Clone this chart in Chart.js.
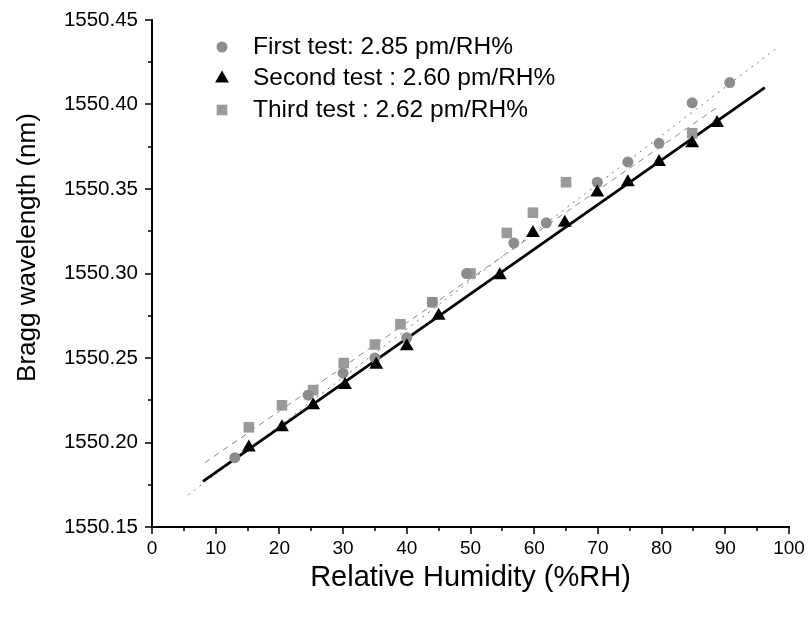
<!DOCTYPE html>
<html>
<head>
<meta charset="utf-8">
<script src="https://cdn.jsdelivr.net/npm/chart.js@4.4.1/dist/chart.umd.min.js"></script>
<style>
  body { margin: 0; background: #fff; }
  #wrap { width: 810px; height: 617px; }
</style>
</head>
<body>
<div id="wrap"><canvas id="c"></canvas></div>
<script>
// axis ticks
const xTicks = [0, 10, 20, 30, 40, 50, 60, 70, 80, 90, 100];
const yTicks = [1550.15, 1550.20, 1550.25, 1550.30, 1550.35, 1550.40, 1550.45];

// first test (circles)
const firstX = [13, 24.5, 30, 35, 40, 44, 49.4, 56.8, 61.9, 69.9, 74.7, 79.6, 84.8, 90.7];
const firstY = [1550.191, 1550.228, 1550.241, 1550.250, 1550.262, 1550.283, 1550.300, 1550.318, 1550.330, 1550.354, 1550.366, 1550.377, 1550.401, 1550.413];

// second test (triangles)
const secondX = [15.2, 20.4, 25.3, 30.3, 35.2, 40, 45, 54.6, 59.8, 64.8, 69.9, 74.7, 79.6, 84.8, 88.7];
const secondY = [1550.197, 1550.209, 1550.222, 1550.234, 1550.246, 1550.257, 1550.275, 1550.299, 1550.324, 1550.330, 1550.348, 1550.354, 1550.366, 1550.377, 1550.389];

// third test (squares)
const thirdX = [15.2, 20.4, 25.3, 30.1, 35, 39, 44, 50, 55.7, 59.8, 65, 84.8];
const thirdY = [1550.209, 1550.222, 1550.231, 1550.247, 1550.258, 1550.270, 1550.283, 1550.300, 1550.324, 1550.336, 1550.354, 1550.383];

// linear fits (end points)
const fitFirstX = [5.7, 98.3];
const fitFirstY = [1550.169, 1550.434];
const fitSecondX = [8, 96.2];
const fitSecondY = [1550.177, 1550.410];
const fitThirdX = [8.3, 89];
const fitThirdY = [1550.188, 1550.399];

const seriesLabels = ['First test: 2.85 pm/RH%', 'Second test : 2.60 pm/RH%', 'Third test : 2.62 pm/RH%'];
const yTitle = 'Bragg wavelength (nm)';
const xTitle = 'Relative Humidity (%RH)';

const FONT = '"Liberation Sans", Arial, sans-serif';

function pts(xs, ys) {
  return xs.map(function(x, i) { return {x: x, y: ys[i]}; });
}

// major + minor tick marks drawn outside the axes
const tickMarks = {
  id: 'tickMarks',
  afterDraw: function(chart) {
    const ctx = chart.ctx;
    const sx = chart.scales.x, sy = chart.scales.y;
    const x0 = chart.chartArea.left, y0 = chart.chartArea.bottom;
    ctx.save();
    ctx.strokeStyle = '#000';
    ctx.lineWidth = 1.5;
    ctx.beginPath();
    xTicks.forEach(function(v, i) {
      let p = Math.round(sx.getPixelForValue(v));
      ctx.moveTo(p, y0); ctx.lineTo(p, y0 + 7);
      if (i < xTicks.length - 1) {
        p = Math.round(sx.getPixelForValue((v + xTicks[i + 1]) / 2));
        ctx.moveTo(p, y0); ctx.lineTo(p, y0 + 4);
      }
    });
    yTicks.forEach(function(v, i) {
      let p = Math.round(sy.getPixelForValue(v));
      ctx.moveTo(x0, p); ctx.lineTo(x0 - 7, p);
      if (i < yTicks.length - 1) {
        p = Math.round(sy.getPixelForValue((v + yTicks[i + 1]) / 2));
        ctx.moveTo(x0, p); ctx.lineTo(x0 - 4, p);
      }
    });
    ctx.stroke();

    // y axis title, sits a little above the axis centre
    ctx.font = '26px ' + FONT;
    ctx.fillStyle = '#000';
    ctx.textAlign = 'center';
    ctx.textBaseline = 'middle';
    ctx.translate(28, (chart.chartArea.top + chart.chartArea.bottom) / 2 - 26);
    ctx.rotate(-Math.PI / 2);
    ctx.fillText(yTitle, 0, 0);
    ctx.restore();
  }
};

// legend inside the plot, top-left
const legendBox = {
  id: 'legendBox',
  afterDatasetsDraw: function(chart) {
    const ctx = chart.ctx;
    const ca = chart.chartArea;
    ctx.save();
    ctx.font = '24.5px ' + FONT;
    ctx.textBaseline = 'middle';
    [0, 1, 2].forEach(function(i) {
      const ds = chart.data.datasets[i];
      const y = ca.top + 27 + i * 31.5;
      ctx.fillStyle = ds.backgroundColor;
      Chart.helpers.drawPoint(ctx, {pointStyle: ds.pointStyle, radius: ds.pointRadius, rotation: 0, borderWidth: 0}, ca.left + 70, y);
      ctx.fillStyle = '#000';
      ctx.fillText(ds.label, ca.left + 101, y);
    });
    ctx.restore();
  }
};

new Chart(document.getElementById('c'), {
  type: 'scatter',
  data: {
    datasets: [{
      label: seriesLabels[0],
      data: pts(firstX, firstY),
      pointStyle: 'circle',
      pointRadius: 5.5,
      backgroundColor: '#8c8c8c',
      borderWidth: 0,
      order: 1
    }, {
      label: seriesLabels[1],
      data: pts(secondX, secondY),
      pointStyle: 'triangle',
      pointRadius: 8,
      backgroundColor: '#000',
      borderWidth: 0,
      order: 0
    }, {
      label: seriesLabels[2],
      data: pts(thirdX, thirdY),
      pointStyle: 'rect',
      pointRadius: 7.5,
      backgroundColor: '#9a9a9a',
      borderWidth: 0,
      order: 2
    }, {
      label: 'fit 1',
      data: pts(fitFirstX, fitFirstY),
      showLine: true,
      pointRadius: 0,
      borderColor: '#777',
      borderWidth: 1,
      borderDash: [2, 5],
      order: 5
    }, {
      label: 'fit 2',
      data: pts(fitSecondX, fitSecondY),
      showLine: true,
      pointRadius: 0,
      borderColor: '#000',
      borderWidth: 2.8,
      order: 3
    }, {
      label: 'fit 3',
      data: pts(fitThirdX, fitThirdY),
      showLine: true,
      pointRadius: 0,
      borderColor: '#888',
      borderWidth: 1,
      borderDash: [6, 5],
      order: 4
    }]
  },
  options: {
    responsive: true,
    maintainAspectRatio: false,
    devicePixelRatio: 1,
    animation: false,
    layout: { padding: { left: 0, right: 21, top: 20, bottom: 0 } },
    scales: {
      x: {
        type: 'linear',
        min: 0, max: 100,
        afterBuildTicks: function(s) { s.ticks = xTicks.map(function(v) { return {value: v}; }); },
        afterFit: function(s) { s.height = 90; s.paddingLeft = 0; s.paddingRight = 0; },
        grid: { display: false, drawTicks: false },
        border: { display: true, color: '#000', width: 2 },
        ticks: { color: '#000', padding: 10, maxRotation: 0, font: { family: FONT, size: 19 } },
        title: { display: true, text: xTitle, color: '#000',
                 font: { family: FONT, size: 29 }, padding: { top: 0, bottom: 22 } }
      },
      y: {
        type: 'linear',
        min: 1550.15, max: 1550.45,
        afterBuildTicks: function(s) { s.ticks = yTicks.map(function(v) { return {value: v}; }); },
        afterFit: function(s) { s.width = 152; s.paddingTop = 0; s.paddingBottom = 0; },
        grid: { display: false, drawTicks: false },
        border: { display: true, color: '#000', width: 2 },
        ticks: { color: '#000', padding: 14, font: { family: FONT, size: 20.5 },
                 callback: function(v) { return Number(v).toFixed(2); } }
      }
    },
    plugins: {
      legend: { display: false },
      tooltip: { enabled: false }
    }
  },
  plugins: [tickMarks, legendBox]
});
</script>
</body>
</html>
